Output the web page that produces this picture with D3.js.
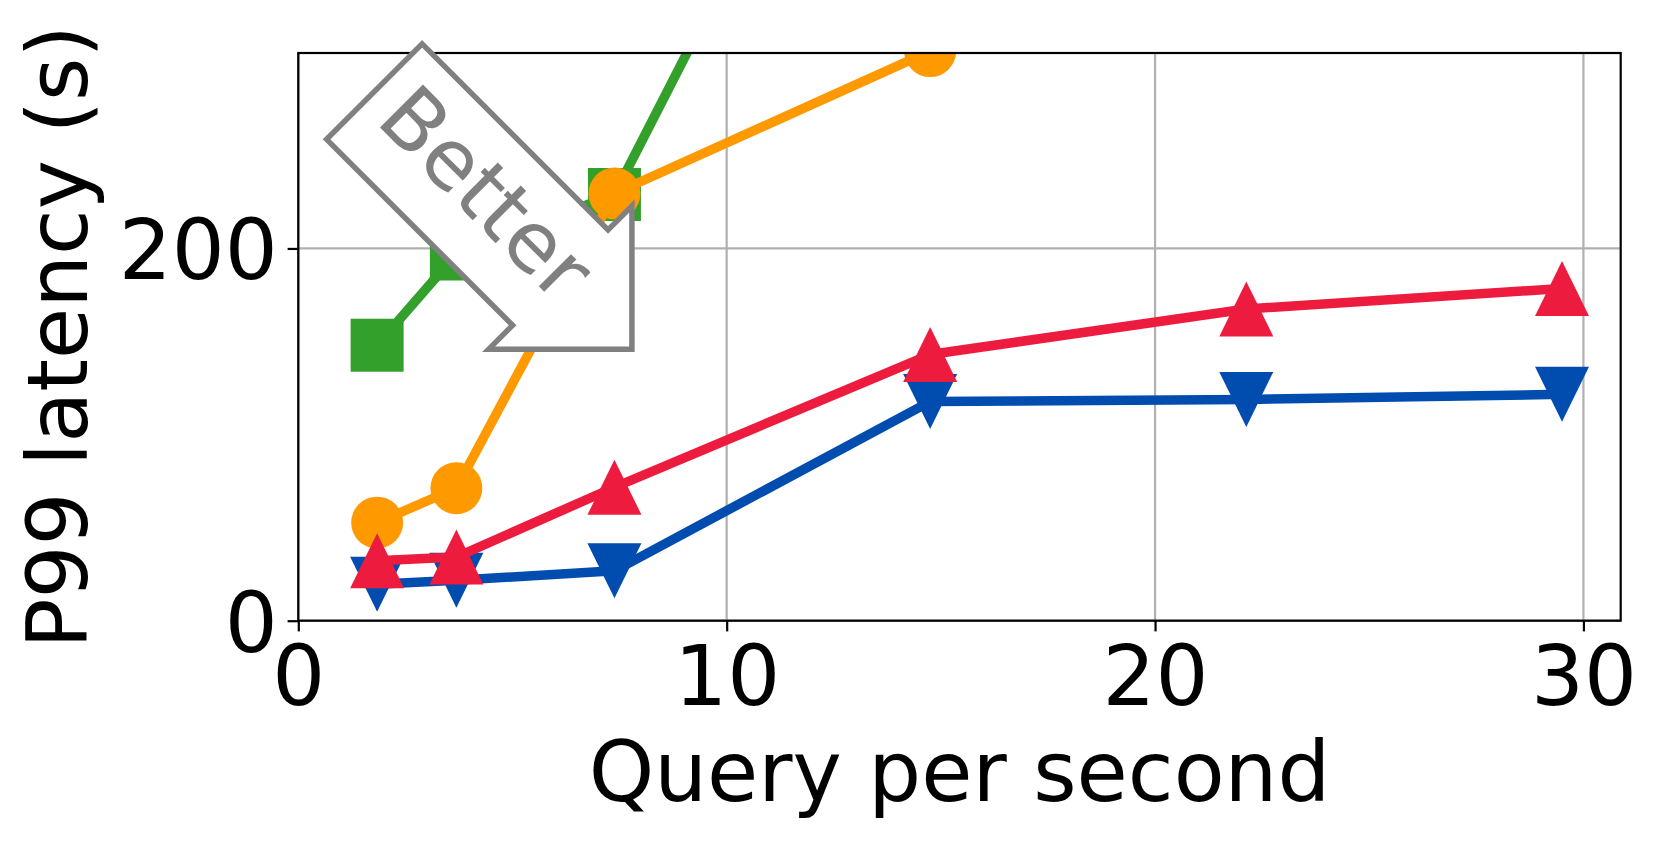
<!DOCTYPE html>
<html>
<head>
<meta charset="utf-8">
<script src="https://cdn.jsdelivr.net/npm/d3@7"></script>
<style>
  html, body { margin: 0; padding: 0; background: #ffffff; }
  svg { display: block; }
  text { font-family: "DejaVu Sans", sans-serif; }
</style>
</head>
<body>
<svg id="chart" width="1660" height="841"></svg>
<script>
// ---------------- data ----------------
const qps = [1.84, 3.69, 7.38, 14.75, 22.13, 29.5];
const greenLatency  = [148, 197, 229, 560];
const orangeLatency = [52.7, 71.2, 229.5, 306];
const blueLatency   = [19.6, 21.7, 26.8, 117.7, 118.9, 121.6];
const redLatency    = [32.2, 34.2, 71.7, 143, 167.5, 178.5];
const xTicks = [0, 10, 20, 30];
const yTicks = [0, 200];
const xDomain = [0, 30.87];
const yDomain = [0, 305];
const xLabel = "Query per second";
const yLabel = "P99 latency (s)";
const betterLabel = "Better";
const betterAt = [3.946, 234.3];

// ---------------- layout ----------------
const W = 1660, H = 841;
const m = { left: 298.3, right: W - 1620.7, top: 53, bottom: H - 620.7 };
const iw = W - m.left - m.right, ih = H - m.top - m.bottom;
const FS = 83.3;

const svg = d3.select("#chart");
const x = d3.scaleLinear().domain(xDomain).range([m.left, m.left + iw]);
const y = d3.scaleLinear().domain(yDomain).range([m.top + ih, m.top]);

svg.append("defs").append("clipPath").attr("id", "plotclip")
  .append("rect").attr("x", m.left).attr("y", m.top).attr("width", iw).attr("height", ih);

// grid
const grid = svg.append("g");
grid.selectAll("line.gx").data(xTicks).join("line")
  .attr("x1", d => x(d)).attr("x2", d => x(d)).attr("y1", m.top).attr("y2", m.top + ih)
  .attr("stroke", "#b0b0b0").attr("stroke-width", 2.2);
grid.selectAll("line.gy").data(yTicks).join("line")
  .attr("y1", d => y(d)).attr("y2", d => y(d)).attr("x1", m.left).attr("x2", m.left + iw)
  .attr("stroke", "#b0b0b0").attr("stroke-width", 2.2);

// series
const series = [
  { name: "green",  color: "#33a02c", ys: greenLatency,  marker: "square" },
  { name: "orange", color: "#ff9900", ys: orangeLatency, marker: "circle" },
  { name: "blue",   color: "#004daf", ys: blueLatency,   marker: "down" },
  { name: "red",    color: "#ed1c3f", ys: redLatency,    marker: "up" }
];
const plot = svg.append("g").attr("clip-path", "url(#plotclip)");
const line = d3.line().x(d => x(d[0])).y(d => y(d[1]));
const MS = 53; // marker size px

function markerPath(type, cx, cy) {
  const p = d3.path();
  const h = MS / 2;
  if (type === "square") {
    p.rect(cx - h, cy - h, MS, MS);
  } else if (type === "circle") {
    p.moveTo(cx + h * 0.98, cy);
    p.arc(cx, cy, h * 0.98, 0, 2 * Math.PI);
  } else if (type === "up") {
    const hh = 55 / 2, hw = 54 / 2;
    p.moveTo(cx, cy - hh); p.lineTo(cx + hw, cy + hh); p.lineTo(cx - hw, cy + hh); p.closePath();
  } else if (type === "down") {
    const hh = 55 / 2, hw = 54 / 2;
    p.moveTo(cx, cy + hh); p.lineTo(cx + hw, cy - hh); p.lineTo(cx - hw, cy - hh); p.closePath();
  }
  return p.toString();
}

series.forEach(s => {
  const pts = s.ys.map((v, i) => [qps[i], v]);
  const g = plot.append("g");
  g.append("path").datum(pts).attr("d", line)
    .attr("fill", "none").attr("stroke", s.color).attr("stroke-width", 9.5)
    .attr("stroke-linejoin", "round").attr("stroke-linecap", "butt");
  g.selectAll("path.mk").data(pts).join("path").attr("class", "mk")
    .attr("d", d => markerPath(s.marker, x(d[0]), y(d[1])))
    .attr("fill", s.color);
});

// axes
const xAxis = d3.axisBottom(x).tickValues(xTicks).tickFormat(d3.format("d"))
  .tickSize(10.7).tickSizeOuter(0);
const yAxis = d3.axisLeft(y).tickValues(yTicks).tickFormat(d3.format("d"))
  .tickSize(10.7).tickSizeOuter(0);

const gx = svg.append("g").attr("transform", `translate(0,${m.top + ih})`).call(xAxis);
const gy = svg.append("g").attr("transform", `translate(${m.left},0)`).call(yAxis);
[gx, gy].forEach(g => {
  g.select(".domain").remove();
  g.selectAll(".tick line").attr("stroke", "#000").attr("stroke-width", 2.2);
  g.selectAll(".tick text").attr("fill", "#000").attr("font-size", FS)
    .attr("font-family", "DejaVu Sans, sans-serif");
});
gx.selectAll(".tick text").attr("y", 84.5).attr("dy", 0);
gy.selectAll(".tick text").attr("x", -20.6).attr("dy", 0.364 * FS).attr("text-anchor", "end");

// frame
svg.append("rect").attr("x", m.left).attr("y", m.top).attr("width", iw).attr("height", ih)
  .attr("fill", "none").attr("stroke", "#000").attr("stroke-width", 2.2);

// axis labels
svg.append("text").attr("x", m.left + iw / 2).attr("y", 801)
  .attr("text-anchor", "middle").attr("font-size", FS).attr("fill", "#000").text(xLabel);
svg.append("text").attr("transform", `translate(87.3,${m.top + ih / 2}) rotate(-90)`)
  .attr("text-anchor", "middle").attr("font-size", FS).attr("fill", "#000").text(yLabel);

// "Better" arrow annotation (rarrow box rotated -45deg, i.e. pointing down-right)
(function () {
  const L = 263, Hb = 135, dx = Hb / 2, dxx = Hb / 4;
  const cx = x(betterAt[0]), cy = y(betterAt[1]);
  const local = [
    [-L / 2, -dx], [L / 2, -dx], [L / 2, -dx - dxx], [L / 2 + dx + dxx, 0],
    [L / 2, dx + dxx], [L / 2, dx], [-L / 2, dx]
  ];
  const g = svg.append("g").attr("transform", `translate(${cx},${cy}) rotate(45)`);
  g.append("polygon")
    .attr("points", local.map(p => p.join(",")).join(" "))
    .attr("fill", "#ffffff").attr("stroke", "#808080").attr("stroke-width", 5.5)
    .attr("stroke-linejoin", "miter").attr("stroke-miterlimit", 10);
  g.append("text").attr("x", 19.5).attr("y", 21.4).attr("text-anchor", "middle")
    .attr("font-size", FS).attr("fill", "#808080")
    .text(betterLabel);
})();
</script>
</body>
</html>
